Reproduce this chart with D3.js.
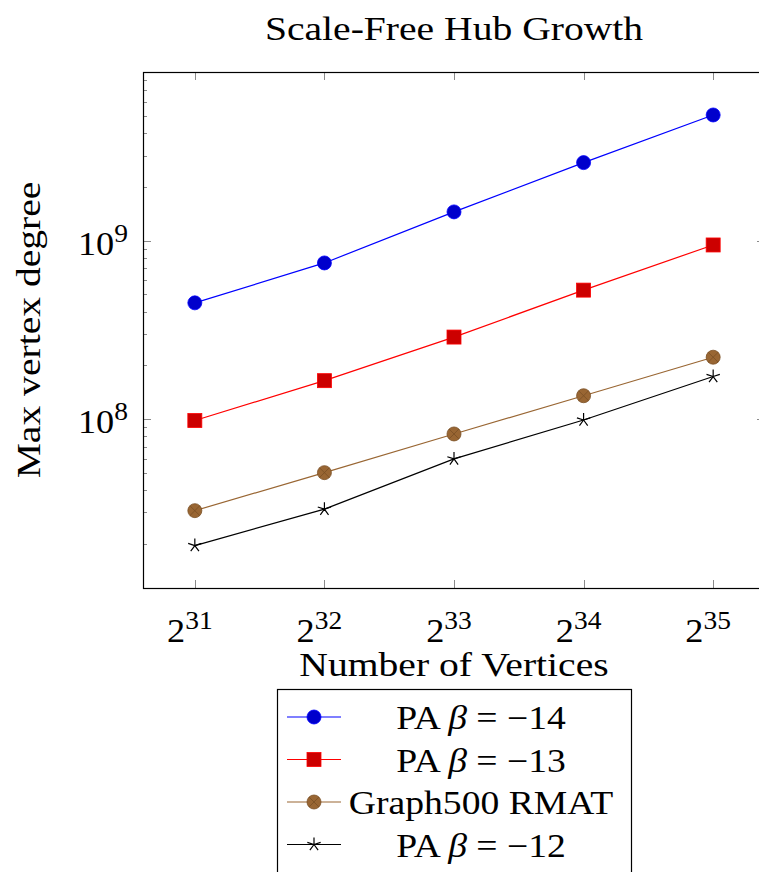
<!DOCTYPE html>
<meta charset="utf-8">
<head>
<style>
  body { margin: 0; background: #fff; }
  text { font-family: "Liberation Serif", "DejaVu Serif", serif; fill: #000; }
</style>
<script src="https://cdn.jsdelivr.net/npm/d3@7"></script>
</head>
<body>
<script>
// data
var exponents = [31, 32, 33, 34, 35];
var paBeta14 = [4.48e8, 7.5e8, 1.45e9, 2.74e9, 5.07e9];
var paBeta13 = [9.8e7, 1.64e8, 2.88e8, 5.28e8, 9.46e8];
var graph500 = [3.06e7, 5.0e7, 8.24e7, 1.35e8, 2.22e8];
var paBeta12 = [1.95e7, 3.12e7, 5.97e7, 9.87e7, 1.73e8];
var yMajor = [8, 9];

var series = [
  {name: "PA", beta: "\u221214", values: paBeta14, line: "#0000ff", fill: "#0000cc", mark: "circle"},
  {name: "PA", beta: "\u221213", values: paBeta13, line: "#ff0000", fill: "#cc0000", mark: "square"},
  {label: "Graph500 RMAT", values: graph500, line: "#996633", fill: "#996633", mark: "otimes"},
  {name: "PA", beta: "\u221212", values: paBeta12, line: "#000000", fill: "#000000", mark: "star"}
];

var W = 759, H = 872;
var plot = {left: 143, right: 765, top: 72, bottom: 588};
var stretch = 1.2; // latex font is wider than Liberation Serif

var x = d3.scaleLinear().domain([30.6, 35.4]).range([plot.left, plot.right]);
var y = d3.scaleLog().domain([Math.pow(10, 7.052), Math.pow(10, 9.946)]).range([plot.bottom, plot.top]);

var svg = d3.select("body").append("svg")
    .attr("width", W).attr("height", H);

// text placed at (tx,ty), stretched horizontally
function label(parent, tx, ty, anchor, size, sx) {
  return parent.append("g")
    .attr("transform", "translate(" + tx + "," + ty + ") scale(" + (sx || stretch) + ",1)")
    .append("text").attr("text-anchor", anchor).attr("font-size", size);
}

// ticks
var tickColor = "#8a8a8a";
var ticks = svg.append("g").attr("stroke", tickColor).attr("stroke-width", 1);
var minor = [];
[7, 8, 9].forEach(function(p) {
  for (var m = 2; m <= 9; m++) {
    var v = m * Math.pow(10, p);
    if (v > y.domain()[0] && v < y.domain()[1]) minor.push(v);
  }
});
minor.forEach(function(v) {
  var yy = Math.round(y(v)) + 0.5;
  ticks.append("line").attr("x1", plot.left).attr("x2", plot.left + 4).attr("y1", yy).attr("y2", yy);
  ticks.append("line").attr("x1", plot.right).attr("x2", plot.right - 4).attr("y1", yy).attr("y2", yy);
});
yMajor.forEach(function(p) {
  var yy = Math.round(y(Math.pow(10, p))) + 0.5;
  ticks.append("line").attr("x1", plot.left).attr("x2", plot.left + 8).attr("y1", yy).attr("y2", yy);
  ticks.append("line").attr("x1", plot.right).attr("x2", plot.right - 8).attr("y1", yy).attr("y2", yy);
});
exponents.forEach(function(e) {
  var xx = Math.round(x(e)) + 0.5;
  ticks.append("line").attr("x1", xx).attr("x2", xx).attr("y1", plot.bottom).attr("y2", plot.bottom - 8);
  ticks.append("line").attr("x1", xx).attr("x2", xx).attr("y1", plot.top).attr("y2", plot.top + 8);
});

// frame
svg.append("rect")
  .attr("x", plot.left + 0.5).attr("y", plot.top + 0.5)
  .attr("width", plot.right - plot.left).attr("height", plot.bottom - plot.top)
  .attr("fill", "none").attr("stroke", "#000").attr("stroke-width", 1.2);

// tick labels
exponents.forEach(function(e) {
  var t = label(svg, x(e) - 5, 642, "middle", 33, 1.1);
  t.append("tspan").text("2");
  t.append("tspan").attr("font-size", 25).attr("dy", -13).text(e);
});
yMajor.forEach(function(p) {
  var t = label(svg, 128, y(Math.pow(10, p)) + 14, "end", 33, 1.1);
  t.append("tspan").text("10");
  t.append("tspan").attr("font-size", 25).attr("dy", -13).text(p);
});

// axis labels and title
label(svg, 454, 676, "middle", 33).text("Number of Vertices");
svg.append("g").attr("transform", "translate(40,330) rotate(-90) scale(" + stretch + ",1)")
  .append("text").attr("text-anchor", "middle").attr("font-size", 33).text("Max vertex degree");
label(svg, 454, 40, "middle", 33).text("Scale-Free Hub Growth");

function drawMark(g, s, cx, cy) {
  if (s.mark === "circle") {
    g.append("circle").attr("cx", cx).attr("cy", cy).attr("r", 7)
      .attr("fill", s.fill).attr("stroke", s.line).attr("stroke-width", 0.8);
  } else if (s.mark === "square") {
    g.append("rect").attr("x", cx - 7).attr("y", cy - 7).attr("width", 14).attr("height", 14)
      .attr("fill", s.fill).attr("stroke", s.line).attr("stroke-width", 0.8);
  } else if (s.mark === "otimes") {
    g.append("circle").attr("cx", cx).attr("cy", cy).attr("r", 7)
      .attr("fill", s.fill).attr("stroke", "#7a4f24").attr("stroke-width", 0.8);
    var d = 7 / Math.SQRT2;
    g.append("path").attr("d", "M" + (cx - d) + "," + (cy - d) + "L" + (cx + d) + "," + (cy + d) +
        "M" + (cx - d) + "," + (cy + d) + "L" + (cx + d) + "," + (cy - d))
      .attr("stroke", "#7a4f24").attr("stroke-width", 0.8);
  } else {
    var p = "";
    for (var k = 0; k < 5; k++) {
      var a = -Math.PI / 2 + k * 2 * Math.PI / 5;
      p += "M" + cx + "," + cy + "L" + (cx + 7 * Math.cos(a)) + "," + (cy + 7 * Math.sin(a));
    }
    g.append("path").attr("d", p).attr("stroke", s.line).attr("stroke-width", 1.2);
  }
}

var line = d3.line()
  .x(function(d, i) { return x(exponents[i]); })
  .y(function(d) { return y(d); });

series.forEach(function(s) {
  var g = svg.append("g");
  g.append("path").attr("d", line(s.values))
    .attr("fill", "none").attr("stroke", s.line).attr("stroke-width", 1.2);
  s.values.forEach(function(v, i) { drawMark(g, s, x(exponents[i]), y(v)); });
});

// legend
var leg = svg.append("g");
leg.append("rect").attr("x", 277.5).attr("y", 689.5).attr("width", 354).attr("height", 200)
  .attr("fill", "#fff").attr("stroke", "#000").attr("stroke-width", 1.2);
series.forEach(function(s, i) {
  var cy = 717 + i * 42.5;
  leg.append("line").attr("x1", 287).attr("x2", 341).attr("y1", cy).attr("y2", cy)
    .attr("stroke", s.line).attr("stroke-width", 1.2);
  drawMark(leg, s, 314, cy);
  var t = label(leg, 481, cy + 12, "middle", 33, 1.14);
  if (s.label) {
    t.text(s.label);
  } else {
    t.append("tspan").text(s.name + " ");
    t.append("tspan").attr("font-style", "italic").text("\u03b2");
    t.append("tspan").text(" = " + s.beta);
  }
});
</script>
</body>
